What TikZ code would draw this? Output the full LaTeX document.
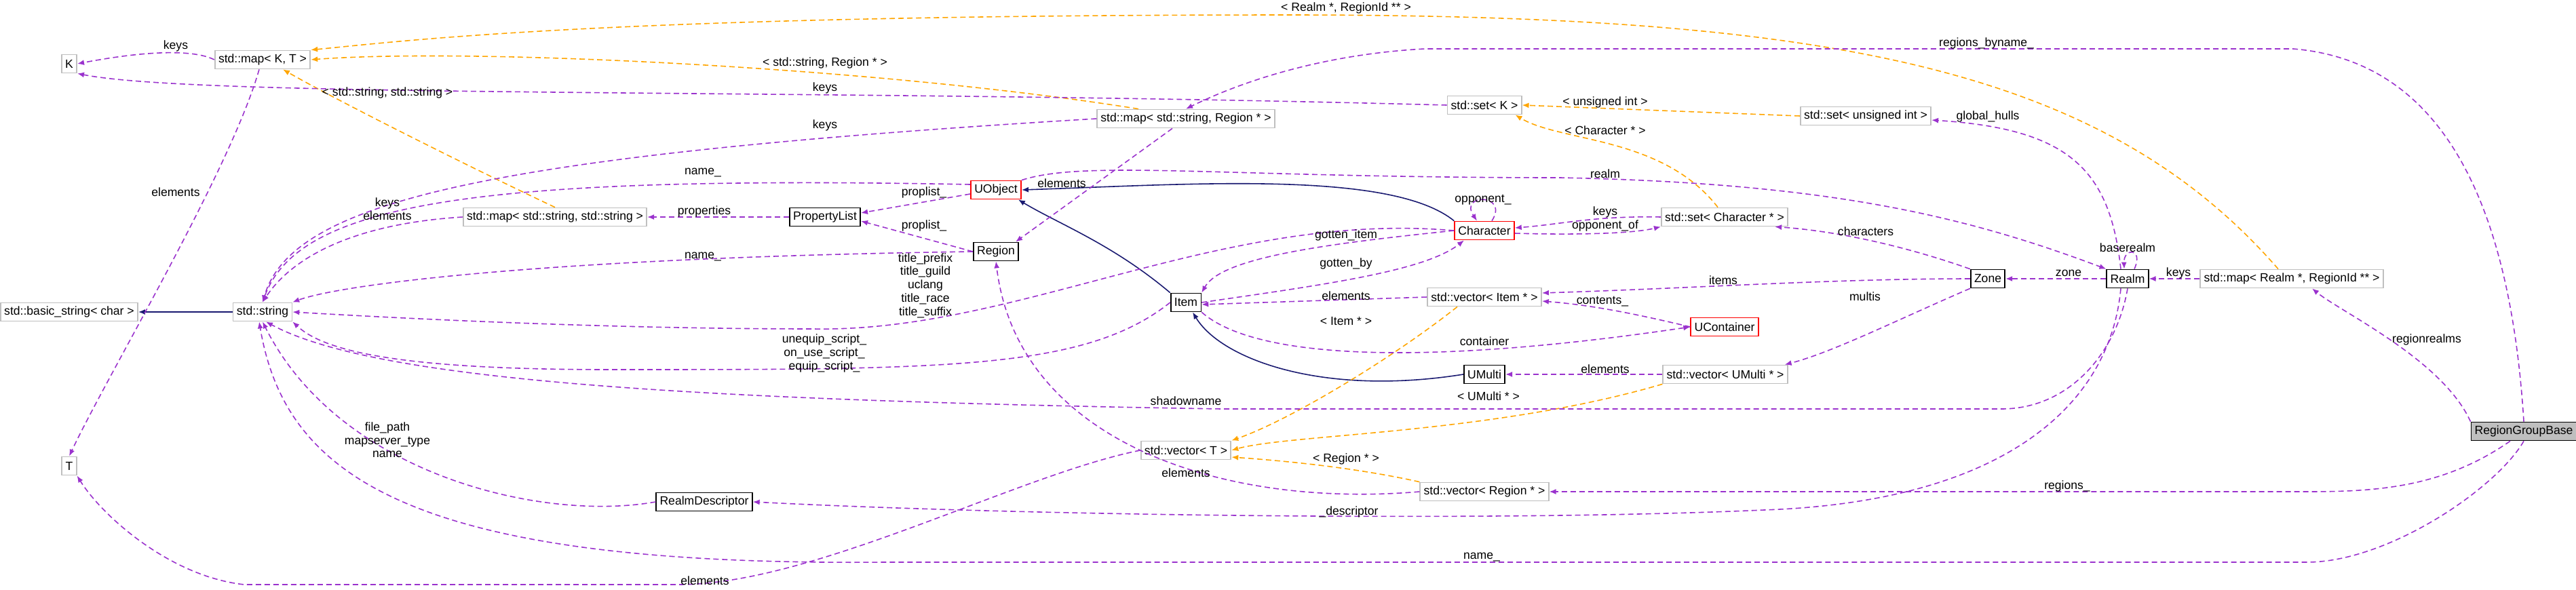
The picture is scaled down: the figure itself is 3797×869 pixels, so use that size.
\documentclass[tikz,border=0pt]{standalone}
\usepackage{fontspec}
\setmainfont{Liberation Sans}
\usetikzlibrary{arrows.meta}
\definecolor{usecol}{HTML}{9A32CD}
\definecolor{tplcol}{HTML}{FFA500}
\definecolor{inhcol}{HTML}{191970}
\tikzset{
  cls/.style={draw=black!25,line width=0.5pt,inner xsep=1.5pt,inner ysep=0pt,minimum height=0.27cm,font=\fontsize{5}{6}\selectfont},
  doc/.style={cls,draw=black},
  bad/.style={cls,draw=red},
  lbl/.style={font=\fontsize{5}{5.6}\selectfont,inner sep=0pt,align=center},
  use/.style={draw=usecol,dash pattern=on 0.8mm off 0.5mm,line width=0.45pt,-{Latex[length=1mm,width=0.8mm]}},
  tpl/.style={draw=tplcol,dash pattern=on 0.8mm off 0.5mm,line width=0.45pt,-{Latex[length=1mm,width=0.8mm]}},
  inh/.style={draw=inhcol,line width=0.45pt,-{Latex[length=1mm,width=0.8mm]}},
}
\begin{document}
\begin{tikzpicture}[x=0.01cm,y=-0.01cm]
\useasboundingbox (0,0) rectangle (3797,869);

% classes
\node[cls] (K) at (102,94) {K};
\node[cls] (mapKT) at (387,88) {std::map< K, T >};
\node[cls] (mapSS) at (818,320) {std::map< std::string, std::string >};
\node[doc] (plist) at (1216,320) {PropertyList};
\node[cls] (str) at (387,460) {std::string};
\node[cls] (bstr) at (102,460) {std::basic\_string< char >};
\node[cls] (T) at (102,687) {T};
\node[doc] (rdesc) at (1038,740) {RealmDescriptor};
\node[cls] (mapSR) at (1748,175) {std::map< std::string, Region * >};
\node[cls] (setK) at (2188,155) {std::set< K >};
\node[bad] (uobj) at (1468,280) {UObject};
\node[doc] (region) at (1468,371) {Region};
\node[bad] (chr) at (2188,340) {Character};
\node[cls] (setC) at (2542,320) {std::set< Character * >};
\node[doc] (item) at (1748,446) {Item};
\node[cls] (vecI) at (2188,438) {std::vector< Item * >};
\node[cls] (setU) at (2750,171) {std::set< unsigned int >};
\node[doc] (zone) at (2930,411) {Zone};
\node[doc] (realm) at (3136,411) {Realm};
\node[cls] (mapRR) at (3378,411) {std::map< Realm *, RegionId ** >};
\node[bad] (ucont) at (2542,482) {UContainer};
\node[doc] (umulti) at (2188,552) {UMulti};
\node[cls] (vecU) at (2543,552) {std::vector< UMulti * >};
\node[cls] (vecT) at (1748,664) {std::vector< T >};
\node[cls] (vecR) at (2188,725) {std::vector< Region * >};
\node[doc,fill=black!25] (rgb) at (3720,636) {RegionGroupBase};

% inheritance
\draw[inh] (str) -- (bstr);
\draw[inh] (chr.north west) .. controls (2050,250) and (1750,272) .. (uobj.east);
\draw[inh] (item.north west) .. controls (1640,360) and (1560,330) .. ([xshift=-0.05cm]uobj.south east);
\draw[inh] (umulti.west) .. controls (1950,585) and (1800,530) .. ([xshift=0.1cm]item.south);

% template instances
\draw[tpl] (mapSS.north) .. controls (700,250) and (500,150) .. ([xshift=0.3cm]mapKT.south);
\draw[tpl] ([xshift=-0.7cm]mapSR.north) .. controls (1300,100) and (700,70) .. (mapKT.east);
\draw[tpl] ([xshift=-0.2cm]mapRR.north) .. controls (3100,100) and (2700,22) .. (1900,22)
  .. controls (900,22) and (600,60) .. (mapKT.north east);
\draw[tpl] (setU.west) -- (setK.east);
\draw[tpl] ([xshift=-0.1cm]setC.north) .. controls (2450,200) and (2300,210) .. ([xshift=-0.1cm]setK.south east);
\draw[tpl] ([xshift=-0.4cm]vecI.south) .. controls (2050,530) and (1900,620) .. (vecT.north east);
\draw[tpl] (vecU.south west) .. controls (2200,640) and (1900,640) .. (vecT.east);
\draw[tpl] (vecR.north west) .. controls (2000,690) and (1900,680) .. ([yshift=-0.1cm]vecT.east);

% members
\draw[use] (mapKT.west) .. controls (290,75) and (230,72) .. (K.east);
\draw[use] (setK.west) .. controls (1200,130) and (300,145) .. (K.south east);
\draw[use] ([xshift=-0.05cm]mapKT.south) .. controls (340,250) and (160,550) .. (T.north);
\draw[use] (mapSR.west) .. controls (700,230) and (430,300) .. (str.north);
\draw[use] (mapSS.west) .. controls (520,330) and (430,380) .. (str.north);
\draw[use] ([yshift=0.08cm]uobj.west) .. controls (700,258) and (440,300) .. (str.north);
\draw[use] (region.west) .. controls (800,380) and (500,420) .. (str.north east);
\draw[use] (chr.west) .. controls (1800,310) and (1500,490) .. (1200,485)
  .. controls (900,485) and (600,470) .. (str.east);
\draw[use] (item.west) .. controls (1600,545) and (1400,545) .. (900,545)
  .. controls (600,545) and (480,520) .. (str.south east);
\draw[use] (realm.south) .. controls (3120,520) and (3050,603) .. (2950,603) -- (1800,603)
  .. controls (1000,590) and (550,560) .. ([xshift=0.05cm]str.south);
\draw[use] (rdesc.west) .. controls (800,770) and (500,700) .. (str.south);
\draw[use] (rgb.south) .. controls (3680,720) and (3520,829) .. (3400,829) -- (1300,829)
  .. controls (600,835) and (420,700) .. ([xshift=-0.05cm]str.south);
\draw[use] (plist.west) -- (mapSS.east);
\draw[use] ([yshift=-0.06cm]uobj.west) -- ([yshift=0.06cm]plist.east);
\draw[use] (region.west) -- ([yshift=-0.06cm]plist.east);
\draw[use] ([xshift=-0.2cm]mapSR.south) -- ([xshift=-0.05cm]region.north east);
\draw[use] (uobj.north east) .. controls (1600,235) and (1800,262) .. (2300,262)
  .. controls (2700,270) and (2900,320) .. (realm.north west);
\draw[use] ([xshift=0.11cm]chr.north) .. controls (2225,285) and (2150,285) .. ([xshift=-0.11cm]chr.north);
\draw[use] (setC.west) .. controls (2350,318) and (2300,331) .. ([yshift=0.04cm]chr.east);
\draw[use] ([yshift=-0.04cm]chr.east) .. controls (2300,346) and (2400,346) .. (setC.south west);
\draw[use] (chr.west) .. controls (1950,360) and (1800,380) .. (item.north east);
\draw[use] (item.east) .. controls (1950,420) and (2100,400) .. ([xshift=-0.3cm]chr.south);
\draw[use] (vecI.west) -- ([yshift=-0.03cm]item.east);
\draw[use] (zone.west) .. controls (2700,411) and (2500,425) .. ([yshift=0.06cm]vecI.east);
\draw[use] (ucont.west) .. controls (2420,465) and (2350,450) .. ([yshift=-0.06cm]vecI.east);
\draw[use] (item.south east) .. controls (1850,530) and (2100,540) .. (ucont.west);
\draw[use] (vecU.west) -- (umulti.east);
\draw[use] (vecR.west) .. controls (1800,750) and (1500,650) .. (region.south);
\draw[use] (vecT.west) .. controls (1500,700) and (1200,862) .. (1000,862) -- (360,862)
  .. controls (250,850) and (150,760) .. (T.south east);
\draw[use] (zone.north west) .. controls (2800,360) and (2700,340) .. ([xshift=-0.2cm]setC.south east);
\draw[use] (zone.south west) .. controls (2800,470) and (2700,520) .. ([xshift=-0.05cm]vecU.north east);
\draw[use] (realm.west) -- (zone.east);
\draw[use] ([xshift=0.1cm]realm.north) .. controls (3160,365) and (3130,365) .. ([xshift=-0.05cm]realm.north);
\draw[use] ([xshift=-0.1cm]realm.north) .. controls (3110,250) and (3050,190) .. ([yshift=-0.06cm]setU.east);
\draw[use] (mapRR.west) -- (realm.east);
\draw[use] ([xshift=-0.1cm]realm.south) .. controls (3110,600) and (2950,740) .. (2600,752)
  .. controls (2200,770) and (1500,760) .. (rdesc.east);
\draw[use] (rgb.north west) .. controls (3600,530) and (3450,460) .. ([xshift=0.3cm]mapRR.south);
\draw[use] (rgb.north) .. controls (3700,300) and (3600,90) .. (3380,72) -- (2100,72)
  .. controls (1950,80) and (1830,120) .. (mapSR.north);
\draw[use] ([xshift=-0.2cm]rgb.south) .. controls (3600,720) and (3500,725) .. (3400,725) -- (vecR.east);

% edge labels
\node[lbl] (lK1) at (259,68) {keys};
\node[lbl] (lK2) at (1216,130) {keys};
\node[lbl] (lT1) at (259,283) {elements};
\node[lbl] (lSS) at (571,137) {< std::string, std::string >};
\node[lbl] (lSR) at (1216,93) {< std::string, Region * >};
\node[lbl] (lRR) at (1984,12) {< Realm *, RegionId ** >};
\node[lbl] (lS1) at (1216,185) {keys};
\node[lbl] (lS2) at (571,308) {keys\\elements};
\node[lbl] (lS3) at (1036,255) {name\_};
\node[lbl] (lS4) at (1036,379) {name\_};
\node[lbl] (lS5) at (1364,421) {title\_prefix\\title\_guild\\uclang\\title\_race\\title\_suffix};
\node[lbl] (lS6) at (1215,521) {unequip\_script\_\\on\_use\_script\_\\equip\_script\_};
\node[lbl] (lS7) at (1748,591) {shadowname};
\node[lbl] (lS8) at (571,649) {file\_path\\mapserver\_type\\name};
\node[lbl] (lS9) at (2184,821) {name\_};
\node[lbl] (lPr) at (1038,312) {properties};
\node[lbl] (lPl1) at (1362,284) {proplist\_};
\node[lbl] (lPl2) at (1362,333) {proplist\_};
\node[lbl] (lRe) at (1565,270) {elements};
\node[lbl] (lRlm) at (2366,256) {realm};
\node[lbl] (lUi) at (2366,151) {< unsigned int >};
\node[lbl] (lCh) at (2366,192) {< Character * >};
\node[lbl] (lOpp) at (2186,295) {opponent\_};
\node[lbl] (lKc) at (2366,313) {keys};
\node[lbl] (lOof) at (2366,333) {opponent\_of};
\node[lbl] (lGi) at (1984,347) {gotten\_item};
\node[lbl] (lGb) at (1984,389) {gotten\_by};
\node[lbl] (lIe) at (1984,436) {elements};
\node[lbl] (lIt) at (2540,413) {items};
\node[lbl] (lCo) at (2362,445) {contents\_};
\node[lbl] (lCn) at (2188,503) {container};
\node[lbl] (lIp) at (1984,474) {< Item * >};
\node[lbl] (lUe) at (2366,544) {elements};
\node[lbl] (lUp) at (2194,584) {< UMulti * >};
\node[lbl] (lRp) at (1984,677) {< Region * >};
\node[lbl] (lRe2) at (1748,697) {elements};
\node[lbl] (lTe) at (1039,856) {elements};
\node[lbl] (lDe) at (1988,755) {\_descriptor};
\node[lbl] (lGh) at (2930,172) {global\_hulls};
\node[lbl] (lChs) at (2750,341) {characters};
\node[lbl] (lBr) at (3136,365) {baserealm};
\node[lbl] (lZo) at (3049,403) {zone};
\node[lbl] (lKr) at (3211,403) {keys};
\node[lbl] (lMu) at (2749,437) {multis};
\node[lbl] (lRr) at (3577,501) {regionrealms};
\node[lbl] (lRb) at (2928,64) {regions\_byname\_};
\node[lbl] (lRg) at (3047,717) {regions\_};
\end{tikzpicture}
\end{document}
